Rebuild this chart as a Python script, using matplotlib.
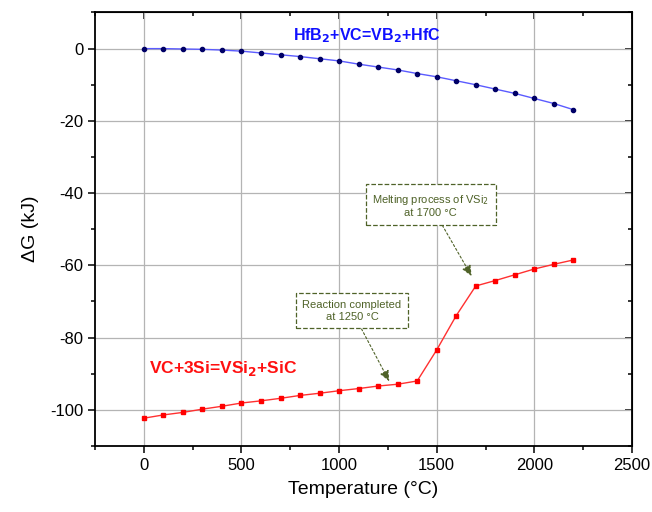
import numpy as np
import matplotlib.pyplot as plt
from matplotlib.ticker import MultipleLocator

plt.rcParams['font.family'] = ['Liberation Sans', 'DejaVu Sans']
plt.rcParams['axes.unicode_minus'] = False

temperature = [0, 100, 200, 300, 400, 500, 600, 700, 800, 900, 1000, 1100,
               1200, 1300, 1400, 1500, 1600, 1700, 1800, 1900, 2000, 2100, 2200]
dg_hfb2 = [0.0, 0.0, -0.1, -0.2, -0.4, -0.7, -1.2, -1.7, -2.2, -2.8, -3.4, -4.3,
           -5.1, -5.9, -6.9, -7.8, -8.9, -10.0, -11.2, -12.4, -13.8, -15.2, -16.9]
dg_vsi2 = [-102.3, -101.4, -100.7, -99.8, -99.0, -98.1, -97.5, -96.8, -96.0, -95.4,
           -94.7, -94.1, -93.4, -92.9, -92.0, -83.4, -73.9, -65.7, -64.2, -62.6,
           -61.0, -59.7, -58.5]

fig = plt.figure(figsize=(6.52, 5.12), dpi=100)
ax = fig.add_axes([0.1457, 0.1289, 0.8236, 0.8467])

ax.plot(temperature, dg_hfb2, color='#5b5bff', lw=1.0, marker='o', ms=3,
        mfc='#000066', mec='#000066', zorder=3)
ax.plot(temperature, dg_vsi2, color='#ff3030', lw=1.0, marker='s', ms=3.2,
        mfc='#ff0000', mec='#ff0000', zorder=3)

ax.set_xlim(-250, 2500)
ax.set_ylim(-110, 10)
ax.xaxis.set_major_locator(MultipleLocator(500))
ax.xaxis.set_minor_locator(MultipleLocator(250))
ax.yaxis.set_major_locator(MultipleLocator(20))
ax.yaxis.set_minor_locator(MultipleLocator(10))
ax.grid(True, which='major', color='#b4b4b4', lw=0.9)
ax.set_axisbelow(True)

ax.tick_params(which='both', direction='out', labelsize=12, width=1.1)
ax.tick_params(which='major', length=5)
ax.tick_params(which='minor', length=3)
for s in ax.spines.values():
    s.set_linewidth(1.3)

# inward ticks on the top and right edges, no labels
top = ax.secondary_xaxis('top')
top.xaxis.set_major_locator(MultipleLocator(500))
top.xaxis.set_minor_locator(MultipleLocator(250))
top.tick_params(which='both', direction='in', labeltop=False, width=1.1)
top.tick_params(which='major', length=5)
top.tick_params(which='minor', length=3)
right = ax.secondary_yaxis('right')
right.yaxis.set_major_locator(MultipleLocator(20))
right.yaxis.set_minor_locator(MultipleLocator(10))
right.tick_params(which='both', direction='in', labelright=False, width=1.1)
right.tick_params(which='major', length=5)
right.tick_params(which='minor', length=3)

ax.set_xlabel('Temperature (°C)', fontsize=14, labelpad=6)
ax.set_ylabel('ΔG (kJ)', fontsize=14, labelpad=8)

ax.text(1142, 3.7, 'HfB$_\\mathbf{2}$+VC=VB$_\\mathbf{2}$+HfC', color='#1010ff',
        fontsize=11.5, fontweight='bold', ha='center', va='center')
ax.text(407, -88.5, 'VC+3Si=VSi$_\\mathbf{2}$+SiC', color='#ff1010',
        fontsize=12.5, fontweight='bold', ha='center', va='center')

note_color = '#4f6228'
box = dict(boxstyle='square,pad=0.6', fc='white', ec=note_color, ls='--', lw=0.9)
arrow = dict(arrowstyle='-|>,head_length=0.8,head_width=0.35', color=note_color,
             lw=0.8, ls=(0, (2, 2)), shrinkA=0, shrinkB=0)
ax.annotate('Reaction completed\nat 1250 °C', xy=(1257, -92.1), xytext=(1066, -72.6),
            fontsize=8, color=note_color, ha='center', va='center',
            bbox=box, arrowprops=arrow, zorder=5)
ax.annotate('Melting process of VSi$_2$\nat 1700 °C', xy=(1679, -63), xytext=(1470, -43.4),
            fontsize=8, color=note_color, ha='center', va='center',
            bbox=box, arrowprops=arrow, zorder=5)

fig.savefig('out.png', dpi=100)
